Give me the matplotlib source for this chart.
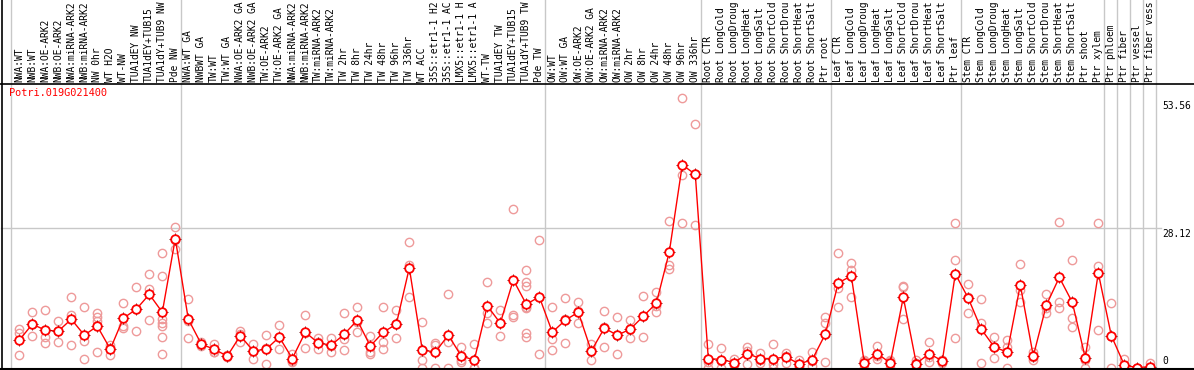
import matplotlib
matplotlib.use("Agg")
import matplotlib.pyplot as plt

# ---------------- data ----------------
# column labels as far as the reference shows them (14 characters at most)
labels = [
    "NWA:WT", "NWB:WT", "NWA:OE-ARK2", "NWB:OE-ARK2", "NWA:miRNA-ARK2", "NWB:miRNA-ARK2",
    "NW 0hr", "WT H2O", "WT-NW", "TUA1dEY NW", "TUA1dEY+TUB15", "TUA1dY+TUB9 NW", "Pde NW",
    "NWA:WT GA", "NWBWT GA", "TW:WT", "TW:WT GA", "NWA:OE-ARK2 GA", "NWB:OE-ARK2 GA",
    "TW:OE-ARK2", "TW:OE-ARK2 GA", "NWA:miRNA-ARK2", "NWB:miRNA-ARK2", "TW:miRNA-ARK2",
    "TW:miRNA-ARK2", "TW 2hr", "TW 8hr", "TW 24hr", "TW 48hr", "TW 96hr", "TW 336hr",
    "WT ACC", "35S::etr1-1 H2", "35S::etr1-1 AC", "LMX5::etr1-1 H", "LMX5::etr1-1 A",
    "WT-TW", "TUA1dEY TW", "TUA1dEY+TUB15", "TUA1dY+TUB9 TW", "Pde TW",
    "OW:WT", "OW:WT GA", "OW:OE-ARK2", "OW:OE-ARK2 GA", "OW:miRNA-ARK2", "OW:miRNA-ARK2",
    "OW 2hr", "OW 8hr", "OW 24hr", "OW 48hr", "OW 96hr", "OW 336hr",
    "Root CTR", "Root LongCold", "Root LongDroug", "Root LongHeat", "Root LongSalt",
    "Root ShortCold", "Root ShortDrou", "Root ShortHeat", "Root ShortSalt", "Ptr root",
    "Leaf CTR", "Leaf LongCold", "Leaf LongDroug", "Leaf LongHeat", "Leaf LongSalt",
    "Leaf ShortCold", "Leaf ShortDrou", "Leaf ShortHeat", "Leaf ShortSalt", "Ptr leaf",
    "Stem CTR", "Stem LongCold", "Stem LongDroug", "Stem LongHeat", "Stem LongSalt",
    "Stem ShortCold", "Stem ShortDrou", "Stem ShortHeat", "Stem ShortSalt", "Ptr shoot",
    "Ptr xylem", "Ptr phloem", "Ptr fiber", "Ptr vessel", "Ptr fiber vess",
]

means = [
    5.6, 8.8, 7.6, 7.4, 9.8, 6.6, 8.4, 3.8, 10.0, 11.8, 14.8, 11.2, 26.0,
    9.8, 4.8, 3.75, 2.4, 6.5, 3.4, 3.8, 6.2, 1.9, 7.2, 5.0, 4.6, 6.8, 9.6, 4.4,
    7.2, 8.8, 20.1, 3.6, 3.2, 6.6, 2.4, 1.6, 12.5, 9.0, 17.7, 12.8, 14.3,
    7.2, 9.6, 11.2, 3.4, 8.0, 6.6, 7.8, 10.4, 13.0, 23.3, 40.8, 38.9,
    1.9, 1.7, 1.1, 2.9, 1.9, 1.9, 2.2, 0.8, 1.7, 6.8,
    17.1, 18.5, 1.0, 2.9, 1.0, 14.2, 0.9, 2.9, 1.4, 18.9,
    14.0, 7.8, 4.2, 3.2, 16.7, 2.4, 12.6, 18.2, 13.2, 2.0, 19.1,
    6.5, 0.6, 0.05, 0.3,
]

replicates = [
    [7.8, 7.0, 2.6], [11.2, 6.4, 8.8], [11.6, 6.3, 5.1], [9.4, 5.3, 7.5], [14.3, 10.6, 4.6],
    [12.3, 5.4, 1.9], [11.0, 10.2, 9.4, 3.2], [4.6, 2.7, 4.1], [13.0, 8.5, 8.1], [16.2, 7.4, 11.8],
    [18.9, 15.8, 9.6], [23.0, 18.4, 9.9, 9.0, 8.4, 6.2, 2.8], [28.3, 24.0, 25.7],
    [13.9, 6.0, 9.5], [5.3, 4.6, 4.5], [4.8, 3.3, 3.2], [2.6, 2.4, 2.2], [7.5, 6.8, 5.2],
    [4.8, 1.9, 3.5], [6.6, 0.8, 4.0], [8.6, 3.75, 6.2], [2.9, 1.3, 1.5], [10.6, 4.0, 7.0],
    [6.1, 3.75, 5.2], [6.1, 3.2, 4.5], [11.0, 5.8, 3.6], [12.3, 7.2, 9.3], [6.4, 3.3, 2.9],
    [12.2, 5.3, 3.75], [11.6, 6.0, 8.8], [25.4, 14.3, 20.6], [9.2, 1.7, 0.0], [5.0, 4.6, 0.0],
    [14.9, 5.3, 0.0], [4.3, 1.3, 1.6], [4.8, 0.0, 0.0], [17.2, 11.0, 9.0], [11.6, 6.4, 9.0],
    [31.9, 10.6, 10.2], [19.7, 17.3, 16.5, 12.3, 12.0, 7.1, 6.3], [25.8, 2.8, 14.3],
    [12.2, 5.8, 3.6], [14.0, 5.0, 9.8], [13.2, 9.0, 11.4], [4.8, 1.7, 3.7], [11.5, 8.3, 4.2],
    [10.2, 2.9, 6.7], [9.6, 6.0, 7.8], [14.5, 6.3, 10.4], [15.3, 12.4, 11.3], [29.5, 20.7, 19.8],
    [54.2, 38.8, 29.1], [49.1, 28.7, 38.9],
    [4.8, 0.0, 1.2], [4.0, 0.0, 1.4], [1.9, 0.6, 0.8], [4.3, 0.9, 3.5], [3.1, 1.1, 1.6],
    [4.8, 0.0, 0.9], [3.1, 1.1, 2.4], [1.7, 0.3, 0.4], [3.2, 0.5, 1.4], [10.3, 9.0, 1.3],
    [23.0, 16.0, 12.3], [21.0, 19.7, 14.3], [1.6, 0.0, 1.4], [4.4, 1.9, 2.4], [1.6, 0.0, 1.4],
    [16.5, 9.8, 16.3], [1.6, 0.0, 1.1], [5.2, 1.3, 2.2], [1.6, 1.0, 1.6], [29.1, 21.7, 6.0],
    [16.8, 11.0, 14.2], [13.9, 9.0, 1.1], [6.3, 2.1, 4.2], [5.6, 4.3, 0.0], [20.9, 15.7, 13.3],
    [3.3, 1.6, 2.3], [14.8, 11.0, 12.0], [29.3, 13.3, 12.0], [21.7, 10.0, 8.2], [4.3, 0.0, 1.7],
    [29.1, 20.5, 7.6], [13.0, 6.5, 0.0], [1.8, 0.0, 0.0], [0.0, 0.0, 0.0], [1.0, 0.0, 0.0],
]

gene_id = "Potri.019G021400"
ytick_values = [0, 28.12, 53.56]
ytick_labels = ["0", "28.12", "53.56"]
group_ends = [-1, 12, 40, 52, 62, 72, 83, 84, 85, 86, 87]  # last index of each group

# ---------------- layout helpers ----------------
W, H = 1194, 370
X0, DX = 19.3, 13.0          # pixel of first category, pixel step
Y0, DY = 368.0, 4.979        # pixel of value 0, pixels per unit


def px_to_x(p):
    return (p - X0) / DX


def py_to_y(p):
    return (Y0 - p) / DY


FONT = "DejaVu Sans Mono"
FS = 6.9

fig = plt.figure(figsize=(W / 100, H / 100), dpi=100)
ax = fig.add_axes([0, 0, 1, 1])
ax.set_xlim(px_to_x(0), px_to_x(W))
ax.set_ylim(py_to_y(H), py_to_y(0))
ax.axis("off")

grid_c = "#c8c8c8"
# group separators
for g in group_ends:
    off = 0.34 if g == -1 else 0.4
    ax.axvline(g + off, color=grid_c, lw=1.0, zorder=1)
# horizontal grid line at 28.12
ax.plot([px_to_x(1), px_to_x(1161)], [ytick_values[1]] * 2, color=grid_c, lw=1.0, zorder=1)

# black frame lines
ax.axvline(px_to_x(1.5), color="black", lw=1.2, zorder=5)
ax.axhline(py_to_y(84.5), color="black", lw=1.2, zorder=5)
ax.axhline(py_to_y(369.0), color="black", lw=1.5, zorder=5)

# column labels
ylab = py_to_y(82)
for i, lab in enumerate(labels):
    ax.text(i, ylab, lab, rotation=90, ha="center", va="bottom",
            family=FONT, fontsize=FS, color="black", zorder=6)

# replicate points
rep_c = "#ee9a9a"
for i, reps in enumerate(replicates):
    ax.plot([i] * len(reps), reps, linestyle="none", marker="o", ms=6.0,
            mfc="none", mec=rep_c, mew=1.0, zorder=2)

# mean line and markers
xs = list(range(len(means)))
ax.plot(xs, means, color="#ff0000", lw=1.0, zorder=3)
ax.plot(xs, means, linestyle="none", marker="+", ms=8.5, mec="#5a0000", mew=0.6, zorder=3.5)
ax.plot(xs, means, linestyle="none", marker="o", ms=6.2, mfc="white",
        mec="#ff0000", mew=1.3, zorder=4)

# title
ax.text(px_to_x(9), py_to_y(88), gene_id, ha="left", va="top",
        family=FONT, fontsize=FS + 0.5, color="#ff0000", zorder=6)

# y value labels at right
xl = px_to_x(1162)
ax.text(xl, py_to_y(101), ytick_labels[2], ha="left", va="top", family=FONT, fontsize=FS, color="black")
ax.text(xl, py_to_y(229), ytick_labels[1], ha="left", va="top", family=FONT, fontsize=FS, color="black")
ax.text(xl, py_to_y(366), ytick_labels[0], ha="left", va="bottom", family=FONT, fontsize=FS, color="black")

fig.savefig("out.png", dpi=100)
